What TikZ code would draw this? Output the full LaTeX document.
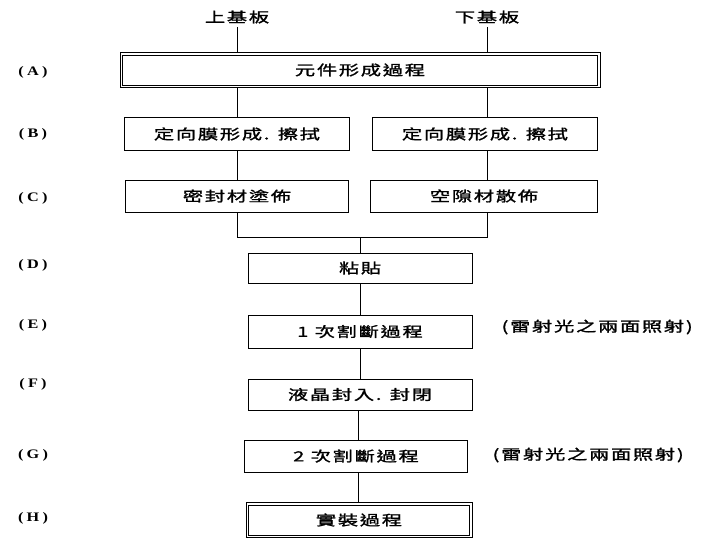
\documentclass[tikz,border=0pt]{standalone}
\usepackage{fontspec}
\setmainfont{Liberation Serif}
\newfontfamily\cjk[FakeStretch=1.45,LetterSpace=12,FakeBold=1.5]{Noto Sans CJK TC}
\newfontfamily\labfont[FakeStretch=1.25,LetterSpace=25]{Liberation Serif}
\begin{document}
\begin{tikzpicture}[x=1pt,y=-1pt,
  txt/.style={font=\cjk\fontsize{14}{16}\selectfont},
  box/.style={draw,line width=0.9pt,minimum height=32pt,inner sep=0pt,txt},
  dbl/.style={line width=0.8pt},
  lab/.style={font=\labfont\bfseries\fontsize{13}{15}\selectfont},
  note/.style={anchor=west,font=\cjk\fontsize{14}{16}\selectfont},
  wire/.style={line width=0.9pt}]
\useasboundingbox (0,0) rectangle (702,543);
\node[txt] (top1) at (237,17) {上基板};
\node[txt] (top2) at (487,17) {下基板};
\node[box,minimum width=480pt,minimum height=35pt] (A) at (360,70) {元件形成過程};
\draw[dbl] ([xshift=3pt,yshift=-3pt]A.north west) rectangle ([xshift=-3pt,yshift=3pt]A.south east);
\node[box,minimum width=225pt,minimum height=33pt] (B1) at (237,134) {定向膜形成. 擦拭};
\node[box,minimum width=225pt,minimum height=33pt] (B2) at (485,134) {定向膜形成. 擦拭};
\node[box,minimum width=223pt] (C1) at (237,196) {密封材塗佈};
\node[box,minimum width=227pt] (C2) at (484,196) {空隙材散佈};
\node[box,minimum width=224pt,minimum height=30pt] (D) at (360,268) {粘貼};
\node[box,minimum width=224pt,minimum height=33pt] (E) at (360,331.5) {1 次割斷過程};
\node[box,minimum width=224pt,minimum height=31pt] (F) at (360,394.5) {液晶封入. 封閉};
\node[box,minimum width=223pt] (G) at (356,456) {2 次割斷過程};
\node[box,minimum width=226pt,minimum height=35pt] (H) at (359,520) {實裝過程};
\draw[dbl] ([xshift=3pt,yshift=-3pt]H.north west) rectangle ([xshift=-3pt,yshift=3pt]H.south east);
\node[note] (nE) at (498,327) {(雷射光之兩面照射)};
\node[note] (nG) at (489,455) {(雷射光之兩面照射)};
\foreach \l/\y in {A/72,B/134,C/198,D/265,E/325,F/384,G/455,H/518}
  \node[lab] (L\l) at (33,\y) {(\l)};
\coordinate (j1) at (237,237);
\coordinate (j2) at (487,237);
\coordinate (jm) at (360,237);
\draw[wire] (top1.south) -- (top1.south |- A.north);
\draw[wire] (top2.south) -- (top2.south |- A.north);
\draw[wire] (A.south -| B1) -- (B1.north);
\draw[wire] (A.south -| 487,0) -- (487,0 |- B2.north);
\draw[wire] (B1.south) -- (C1.north -| B1.south);
\draw[wire] (487,0 |- B2.south) -- (487,0 |- C2.north);
\draw[wire] (C1.south -| j1) -- (j1) -- (j2) -- (C2.south -| j2);
\draw[wire] (jm) -- (D.north);
\draw[wire] (D.south) -- (E.north);
\draw[wire] (E.south) -- (F.north);
\draw[wire] (F.south -| 358,0) -- (G.north -| 358,0);
\draw[wire] (G.south -| 358,0) -- (H.north -| 358,0);
\end{tikzpicture}
\end{document}
